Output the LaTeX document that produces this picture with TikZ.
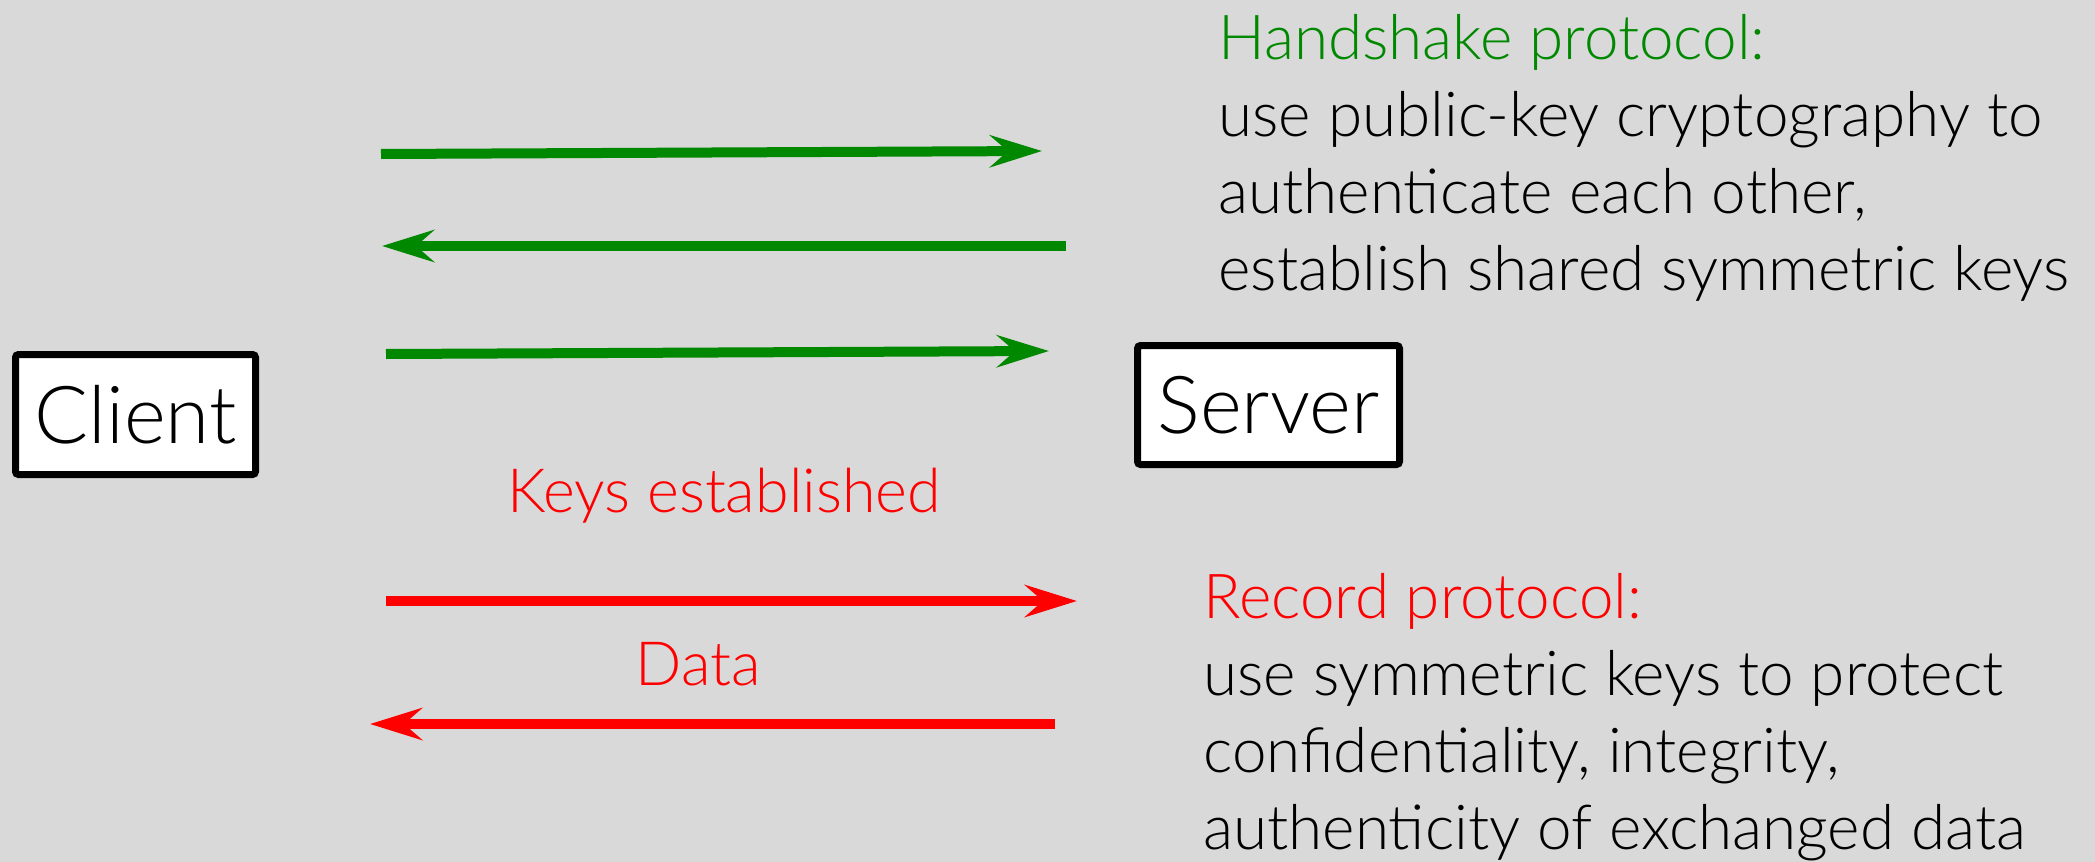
\documentclass[tikz,border=0pt]{standalone}
\usepackage{fontspec}
\setmainfont{Lato Light}
\usetikzlibrary{arrows.meta}
\definecolor{bggray}{RGB}{217,217,217}
\definecolor{hsgreen}{RGB}{0,136,0}
\definecolor{recred}{RGB}{255,0,0}
\tikzset{
  party/.style={draw=black, line width=3.5pt, fill=white, rounded corners=1.5pt,
    inner sep=0pt, font=\fontsize{40}{48}\selectfont},
  hsarrow/.style={draw=hsgreen, line width=5pt, -{Stealth[length=26pt,width=16pt,inset=9pt]}},
  recarrow/.style={draw=recred, line width=5pt, -{Stealth[length=26pt,width=16pt,inset=9pt]}},
  desc/.style={align=left, inner sep=0pt, anchor=base west, font=\fontsize{31}{38.4}\selectfont},
  label/.style={inner sep=0pt, anchor=base, text=recred, font=\fontsize{30.5}{36}\selectfont},
}
\begin{document}
\begin{tikzpicture}[x=0.5pt, y=-0.5pt]
	\useasboundingbox[fill=bggray] (0,0) rectangle (2095,862);
	% client and server
	\node[party, minimum width=120pt, minimum height=60pt] (client) at (135.5,414.5) {Client};
	\node[party, minimum width=131pt, minimum height=59.5pt] (server) at (1268.5,405) {Server};
	% handshake messages
	\coordinate (h1a) at (381,154);  \coordinate (h1b) at (1042,151);
	\coordinate (h2a) at (1066,246); \coordinate (h2b) at (382,246);
	\coordinate (h3a) at (386,354);  \coordinate (h3b) at (1049,351);
	\draw[hsarrow] (h1a) -- (h1b);
	\draw[hsarrow] (h2a) -- (h2b);
	\draw[hsarrow] (h3a) -- (h3b);
	% record messages
	\node[label] (keys) at (724,512) {Keys established};
	\coordinate (r1a) at (386,601);  \coordinate (r1b) at (1077,601);
	\draw[recarrow] (r1a) -- (r1b);
	\node[label] (data) at (698,685) {Data};
	\coordinate (r2a) at (1055,724); \coordinate (r2b) at (370,724);
	\draw[recarrow] (r2a) -- (r2b);
	% explanations (anchored on their last line)
	\node[desc] (hstext) at (1218,290) {\textcolor{hsgreen}{Handshake protocol:}\\
		use public-key cryptography to\\
		authenticate each other,\\
		establish shared symmetric keys};
	\node[desc] (rectext) at (1203,849) {\textcolor{recred}{Record protocol:}\\
		use symmetric keys to protect\\
		confidentiality, integrity,\\
		authenticity of exchanged data};
\end{tikzpicture}
\end{document}
